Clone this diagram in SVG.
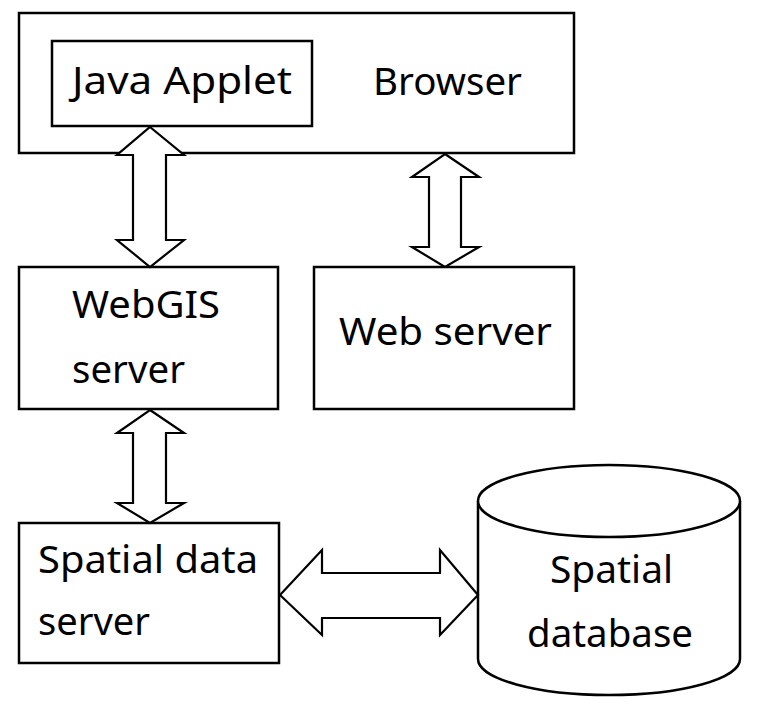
<svg xmlns="http://www.w3.org/2000/svg" width="768" height="705" viewBox="0 0 768 705">
<style>
.box{fill:#fff;stroke:#000;stroke-width:2.5}
.arr{fill:#fff;stroke:#000;stroke-width:2.2;stroke-linejoin:miter}
text{font-family:"Noto Sans","Open Sans","Liberation Sans",sans-serif;font-size:38px;fill:#000}
</style>
<rect width="768" height="705" fill="#fff"/>
<g id="browser">
<rect class="box" x="19" y="13" width="555" height="140"/>
<text x="373" y="95" textLength="149" lengthAdjust="spacingAndGlyphs">Browser</text>
</g>
<g id="java-applet">
<rect class="box" x="52" y="41" width="260" height="85"/>
<text x="72" y="94" textLength="220" lengthAdjust="spacingAndGlyphs">Java Applet</text>
</g>
<g id="webgis-server">
<rect class="box" x="19" y="267" width="259" height="142"/>
<text x="72" y="318" textLength="148" lengthAdjust="spacingAndGlyphs">WebGIS</text>
<text x="72" y="383" textLength="113" lengthAdjust="spacingAndGlyphs">server</text>
</g>
<g id="web-server">
<rect class="box" x="314" y="267" width="260" height="142"/>
<text x="339" y="345" textLength="213" lengthAdjust="spacingAndGlyphs">Web server</text>
</g>
<g id="spatial-data-server">
<rect class="box" x="19" y="523" width="260" height="140"/>
<text x="38" y="573" textLength="220" lengthAdjust="spacingAndGlyphs">Spatial data</text>
<text x="38" y="635" textLength="112" lengthAdjust="spacingAndGlyphs">server</text>
</g>
<g id="spatial-database">
<path class="box" d="M478,501 L478,659 A131,36 0 0 0 740,659 L740,501"/>
<ellipse class="box" cx="609" cy="501" rx="131" ry="36"/>
<text x="550" y="583" textLength="123" lengthAdjust="spacingAndGlyphs">Spatial</text>
<text x="527" y="647" textLength="166" lengthAdjust="spacingAndGlyphs">database</text>
</g>
<g id="connectors">
<polygon class="arr" points="150,127 184,155 166,155 166,240 184,240 150,267 117,240 133,240 133,155 117,155"/>
<polygon class="arr" points="445,154 479,177 461,177 461,247 479,247 445,267 412,247 429,247 429,177 412,177"/>
<polygon class="arr" points="150,410 184,433 166,433 166,503 184,503 150,523 117,503 133,503 133,433 117,433"/>
<polygon class="arr" points="280,595 322,550 322,573 440,573 440,550 478,595 440,635 440,618 322,618 322,635"/>
</g>
</svg>
